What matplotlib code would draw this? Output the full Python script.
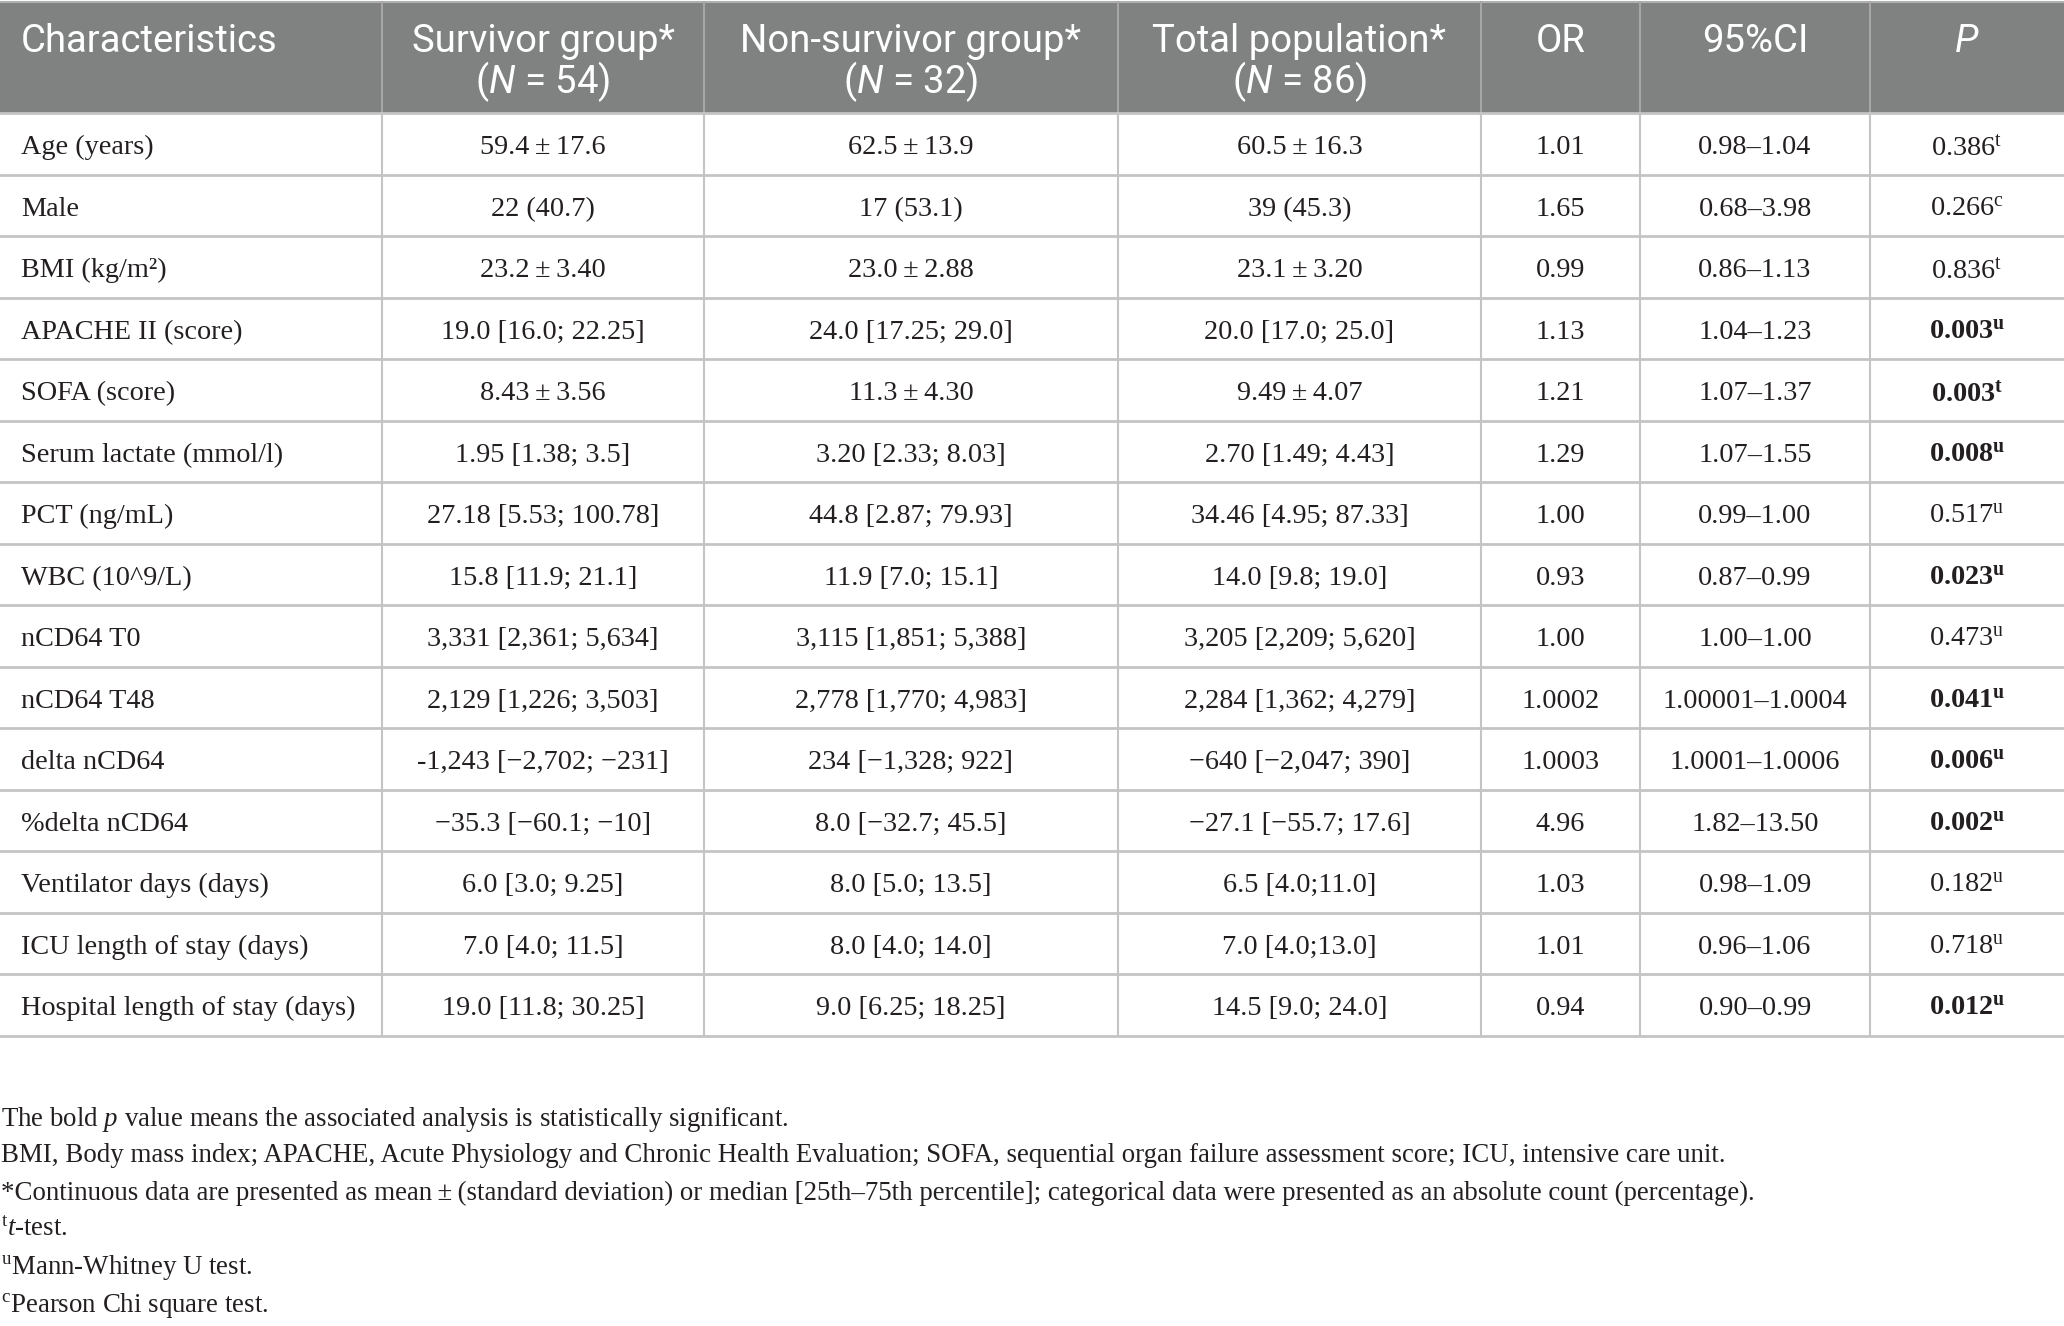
import matplotlib
import matplotlib.pyplot as plt

matplotlib.rcParams.update({
    'mathtext.fontset': 'custom',
    'mathtext.rm': 'Liberation Serif',
    'mathtext.it': 'Liberation Serif:italic',
    'mathtext.bf': 'Liberation Serif:bold',
    'mathtext.sf': 'Roboto:italic',
})

characteristics = ["Age (years)", "Male", "BMI (kg/m\u00b2)", "APACHE II (score)", "SOFA (score)",
                   "Serum lactate (mmol/l)", "PCT (ng/mL)", "WBC (10^9/L)", "nCD64 T0", "nCD64 T48",
                   "delta nCD64", "%delta nCD64", "Ventilator days (days)", "ICU length of stay (days)",
                   "Hospital length of stay (days)"]
survivor = ["59.4\u2009\u00b1\u200917.6", "22 (40.7)", "23.2\u2009\u00b1\u20093.40", "19.0 [16.0; 22.25]",
            "8.43\u2009\u00b1\u20093.56", "1.95 [1.38; 3.5]", "27.18 [5.53; 100.78]", "15.8 [11.9; 21.1]",
            "3,331 [2,361; 5,634]", "2,129 [1,226; 3,503]", "-1,243 [\u22122,702; \u2212231]",
            "\u221235.3 [\u221260.1; \u221210]", "6.0 [3.0; 9.25]", "7.0 [4.0; 11.5]", "19.0 [11.8; 30.25]"]
non_survivor = ["62.5\u2009\u00b1\u200913.9", "17 (53.1)", "23.0\u2009\u00b1\u20092.88", "24.0 [17.25; 29.0]",
                "11.3\u2009\u00b1\u20094.30", "3.20 [2.33; 8.03]", "44.8 [2.87; 79.93]", "11.9 [7.0; 15.1]",
                "3,115 [1,851; 5,388]", "2,778 [1,770; 4,983]", "234 [\u22121,328; 922]",
                "8.0 [\u221232.7; 45.5]", "8.0 [5.0; 13.5]", "8.0 [4.0; 14.0]", "9.0 [6.25; 18.25]"]
total = ["60.5\u2009\u00b1\u200916.3", "39 (45.3)", "23.1\u2009\u00b1\u20093.20", "20.0 [17.0; 25.0]",
         "9.49\u2009\u00b1\u20094.07", "2.70 [1.49; 4.43]", "34.46 [4.95; 87.33]", "14.0 [9.8; 19.0]",
         "3,205 [2,209; 5,620]", "2,284 [1,362; 4,279]", "\u2212640 [\u22122,047; 390]",
         "\u221227.1 [\u221255.7; 17.6]", "6.5 [4.0;11.0]", "7.0 [4.0;13.0]", "14.5 [9.0; 24.0]"]
odds_ratio = ["1.01", "1.65", "0.99", "1.13", "1.21", "1.29", "1.00", "0.93", "1.00", "1.0002",
              "1.0003", "4.96", "1.03", "1.01", "0.94"]
ci95 = ["0.98\u20131.04", "0.68\u20133.98", "0.86\u20131.13", "1.04\u20131.23", "1.07\u20131.37",
        "1.07\u20131.55", "0.99\u20131.00", "0.87\u20130.99", "1.00\u20131.00", "1.00001\u20131.0004",
        "1.0001\u20131.0006", "1.82\u201313.50", "0.98\u20131.09", "0.96\u20131.06", "0.90\u20130.99"]
p_values = ["0.386", "0.266", "0.836", "0.003", "0.003", "0.008", "0.517", "0.023", "0.473", "0.041",
            "0.006", "0.002", "0.182", "0.718", "0.012"]
p_tests = ["t", "c", "t", "u", "t", "u", "u", "u", "u", "u", "u", "u", "u", "u", "u"]
p_bold = [False, False, False, True, True, True, False, True, False, True, True, True, False, False, True]

headers = ["Characteristics", "Survivor group*", "Non-survivor group*", "Total population*", "OR", "95%CI", "P"]
header_n = [None, "54", "32", "86", None, None, None]

footnotes = [r"The bold $\mathit{p}$ value means the associated analysis is statistically significant.",
             "BMI, Body mass index; APACHE, Acute Physiology and Chronic Health Evaluation; SOFA, sequential organ failure assessment score; ICU, intensive care unit.",
             "*Continuous data are presented as mean\u2009\u00b1\u2009(standard deviation) or median [25th\u201375th percentile]; categorical data were presented as an absolute count (percentage).",
             r"${}^{\mathrm{t}}\mathit{t}$-test.",
             r"${}^{\mathrm{u}}$Mann-Whitney U test.",
             r"${}^{\mathrm{c}}$Pearson Chi square test."]

W, H = 2064, 1326
col_edges = [0, 382, 704, 1118, 1481, 1640, 1870, 2064]
head_top, head_bot = 2, 113
row_h = 61.5
n_rows = len(characteristics)
table_bot = head_bot + row_h * n_rows
note_y = [1119, 1156, 1193, 1230, 1267, 1305]

head_bg = "#808181"
grid_c = "#c4c4c4"
txt_c = "#231f20"
body_fs = 20.3
head_fs = 27.5
note_fs = 19.4

fig = plt.figure(figsize=(W / 100, H / 100), dpi=100)
ax = fig.add_axes([0, 0, 1, 1])
ax.set_xlim(0, W)
ax.set_ylim(H, 0)
ax.axis('off')

# header block
ax.add_patch(plt.Rectangle((0, head_top), W, head_bot - head_top, fc=head_bg, ec='none'))
ax.plot([0, W], [head_top, head_top], c="#b0b0b0", lw=1.5)
for x in col_edges[1:-1]:
    ax.plot([x, x], [head_top, head_bot], c="#a6a6a6", lw=1.5)
    ax.plot([x, x], [head_bot, table_bot], c=grid_c, lw=1.5)
for i in range(n_rows + 1):
    y = head_bot + row_h * i
    ax.plot([0, W], [y, y], c=grid_c, lw=2)

centers = [(col_edges[j] + col_edges[j + 1]) / 2 for j in range(len(col_edges) - 1)]

for j, h in enumerate(headers):
    if j == 0:
        ax.text(21, 42, h, ha='left', va='center', color='white', fontsize=head_fs, family='Roboto')
    elif header_n[j] is None:
        label = r"$\mathsf{P}$" if h == "P" else h
        ax.text(centers[j], 42, label, ha='center', va='center', color='white', fontsize=head_fs,
                family='Roboto')
    else:
        ax.text(centers[j], 42, h, ha='center', va='center', color='white', fontsize=head_fs,
                family='Roboto')
        ax.text(centers[j], 82, "($\\mathsf{N}$ = %s)" % header_n[j], ha='center', va='center',
                color='white', fontsize=head_fs, family='Roboto')

columns = [survivor, non_survivor, total, odds_ratio, ci95]
for i in range(n_rows):
    yc = head_bot + row_h * (i + 0.5) + 4
    ax.text(21, yc, characteristics[i], ha='left', va='center', color=txt_c,
            fontsize=body_fs, family='Liberation Serif')
    for j, col in enumerate(columns):
        ax.text(centers[j + 1], yc, col[i], ha='center', va='center', color=txt_c,
                fontsize=body_fs, family='Liberation Serif')
    if p_bold[i]:
        ptxt = r"$\mathbf{%s}^{\mathbf{%s}}$" % (p_values[i], p_tests[i])
    else:
        ptxt = r"$\mathrm{%s}^{\mathrm{%s}}$" % (p_values[i], p_tests[i])
    ax.text(centers[6], yc, ptxt, ha='center', va='center', color=txt_c,
            fontsize=body_fs, family='Liberation Serif')

for note, y in zip(footnotes, note_y):
    ax.text(1, y, note, ha='left', va='center', color=txt_c, fontsize=note_fs, family='Liberation Serif')

fig.savefig("out.png", dpi=100, facecolor='white')
plt.close()
